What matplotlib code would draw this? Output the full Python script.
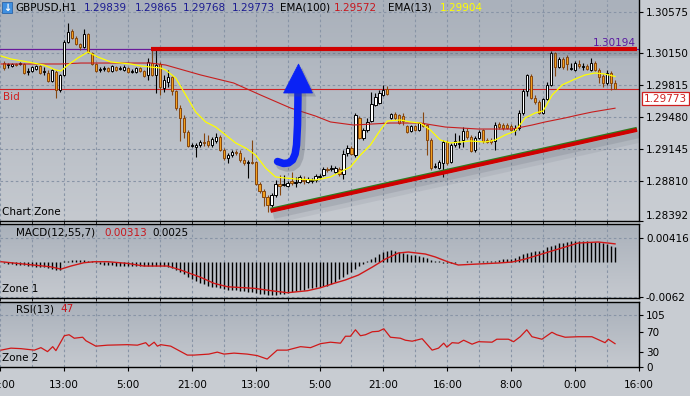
import numpy as np
import matplotlib
matplotlib.use('Agg')
import matplotlib.pyplot as plt
import matplotlib.patheffects as pe
import matplotlib.transforms as mtransforms
from matplotlib.colors import LinearSegmentedColormap
from matplotlib.patches import Polygon, Rectangle

plt.rcParams['font.family'] = 'DejaVu Sans'
plt.rcParams['font.size'] = 7.5

# ---- GBPUSD H1 candles (bar index 0..153)
opens = [1.30045, 1.30024, 1.30014, 1.30035, 1.30035, 1.30035, 1.29951, 1.29962, 1.29983, 1.30014,
         1.29951, 1.29941, 1.29857, 1.29951, 1.29763, 1.29920, 1.30265, 1.30380, 1.30307, 1.30244,
         1.30213, 1.30349, 1.30150, 1.30035, 1.29972, 1.29983, 1.29993, 1.29962, 1.30003, 1.29983,
         1.29972, 1.29993, 1.29951, 1.29951, 1.29993, 1.29962, 1.29920, 1.30045, 1.29920, 1.30035,
         1.29784, 1.29846, 1.29899, 1.29752, 1.29574, 1.29470, 1.29323, 1.29176, 1.29166, 1.29187,
         1.29218, 1.29229, 1.29187, 1.29229, 1.29271, 1.29134, 1.29051, 1.29082, 1.29114, 1.29103,
         1.29030, 1.28999, 1.29009, 1.29009, 1.28779, 1.28705, 1.28642, 1.28559, 1.28663, 1.28779,
         1.28768, 1.28758, 1.28810, 1.28789, 1.28799, 1.28820, 1.28799, 1.28810, 1.28820, 1.28852,
         1.28873, 1.28936, 1.28936, 1.28904, 1.28936, 1.28883, 1.29103, 1.29155, 1.29082, 1.29470,
         1.29260, 1.29344, 1.29438, 1.29605, 1.29627, 1.29710, 1.29773, 1.29470, 1.29511, 1.29501,
         1.29490, 1.29386, 1.29333, 1.29386, 1.29344, 1.29417, 1.29396, 1.29239, 1.28957, 1.28946,
         1.28999, 1.29218, 1.29009, 1.29187, 1.29197, 1.29239, 1.29333, 1.29271, 1.29134, 1.29260,
         1.29344, 1.29239, 1.29239, 1.29229, 1.29407, 1.29396, 1.29396, 1.29386, 1.29344, 1.29365,
         1.29522, 1.29752, 1.29909, 1.29679, 1.29637, 1.29522, 1.29668, 1.29815, 1.30150, 1.30003,
         1.30087, 1.30108, 1.29983, 1.29972, 1.30035, 1.30003, 1.30014, 1.29972, 1.30045, 1.29972,
         1.29909, 1.29836, 1.29941, 1.29839]
closes = [1.29993, 1.30035, 1.30035, 1.30024, 1.30045, 1.29941, 1.29962, 1.30003, 1.30014, 1.29941,
          1.29962, 1.29857, 1.29972, 1.29763, 1.29920, 1.30265, 1.30370, 1.30307, 1.30244, 1.30213,
          1.30349, 1.30161, 1.30035, 1.29962, 1.29983, 1.29993, 1.29962, 1.30014, 1.29972, 1.29993,
          1.30003, 1.29951, 1.29962, 1.29993, 1.29962, 1.29909, 1.30056, 1.29920, 1.30024, 1.29794,
          1.29867, 1.29899, 1.29752, 1.29574, 1.29470, 1.29323, 1.29176, 1.29187, 1.29187, 1.29218,
          1.29208, 1.29187, 1.29250, 1.29271, 1.29134, 1.29051, 1.29082, 1.29114, 1.29103, 1.29030,
          1.28999, 1.29009, 1.28999, 1.28779, 1.28705, 1.28642, 1.28559, 1.28663, 1.28779, 1.28758,
          1.28779, 1.28789, 1.28789, 1.28799, 1.28852, 1.28815, 1.28831, 1.28820, 1.28862, 1.28862,
          1.28936, 1.28925, 1.28946, 1.28946, 1.28883, 1.29093, 1.29155, 1.29093, 1.29501, 1.29260,
          1.29344, 1.29428, 1.29616, 1.29689, 1.29731, 1.29763, 1.29721, 1.29511, 1.29470, 1.29417,
          1.29438, 1.29323, 1.29386, 1.29344, 1.29417, 1.29386, 1.29239, 1.28946, 1.28967, 1.29009,
          1.29218, 1.28999, 1.29187, 1.29229, 1.29208, 1.29333, 1.29271, 1.29124, 1.29260, 1.29323,
          1.29229, 1.29218, 1.29218, 1.29396, 1.29375, 1.29365, 1.29365, 1.29344, 1.29365, 1.29522,
          1.29752, 1.29920, 1.29679, 1.29637, 1.29522, 1.29668, 1.29815, 1.30150, 1.30003, 1.30087,
          1.30003, 1.30035, 1.29993, 1.30045, 1.30014, 1.30014, 1.29983, 1.30045, 1.29972, 1.29899,
          1.29836, 1.29941, 1.29836, 1.29773]
highs = [1.30066, 1.30045, 1.30045, 1.30045, 1.30056, 1.30045, 1.29993, 1.30014, 1.30024, 1.30024,
         1.30003, 1.29972, 1.29983, 1.29972, 1.29930, 1.30286, 1.30464, 1.30401, 1.30328, 1.30255,
         1.30401, 1.30360, 1.30161, 1.30045, 1.30003, 1.30014, 1.30003, 1.30024, 1.30014, 1.30014,
         1.30024, 1.30003, 1.29983, 1.30003, 1.30003, 1.29972, 1.30098, 1.30181, 1.30202, 1.30056,
         1.29920, 1.29972, 1.29909, 1.29763, 1.29605, 1.29501, 1.29344, 1.29208, 1.29208, 1.29239,
         1.29313, 1.29292, 1.29271, 1.29313, 1.29292, 1.29155, 1.29103, 1.29134, 1.29134, 1.29134,
         1.29061, 1.29030, 1.29239, 1.29020, 1.28799, 1.28726, 1.28663, 1.28684, 1.28820, 1.28873,
         1.28873, 1.28810, 1.28904, 1.28852, 1.28873, 1.28862, 1.28852, 1.28841, 1.28883, 1.28883,
         1.28957, 1.28957, 1.28978, 1.28967, 1.28957, 1.29134, 1.29187, 1.29176, 1.29522, 1.29490,
         1.29365, 1.29470, 1.29742, 1.29731, 1.29763, 1.29815, 1.29805, 1.29522, 1.29532, 1.29511,
         1.29522, 1.29396, 1.29396, 1.29396, 1.29428, 1.29532, 1.29407, 1.29260, 1.28999, 1.29030,
         1.29239, 1.29239, 1.29208, 1.29313, 1.29292, 1.29375, 1.29365, 1.29292, 1.29281, 1.29344,
         1.29354, 1.29260, 1.29260, 1.29428, 1.29428, 1.29417, 1.29417, 1.29407, 1.29396, 1.29553,
         1.29773, 1.29930, 1.29930, 1.29710, 1.29658, 1.29679, 1.29846, 1.30171, 1.30161, 1.30108,
         1.30108, 1.30129, 1.30045, 1.30066, 1.30077, 1.30045, 1.30035, 1.30098, 1.30066, 1.29993,
         1.29930, 1.29972, 1.29962, 1.29865]
lows = [1.29972, 1.29993, 1.30003, 1.30014, 1.30024, 1.29930, 1.29920, 1.29951, 1.29972, 1.29930,
        1.29920, 1.29846, 1.29846, 1.29679, 1.29742, 1.29909, 1.30255, 1.30297, 1.30234, 1.30181,
        1.30202, 1.30150, 1.30024, 1.29951, 1.29951, 1.29962, 1.29951, 1.29951, 1.29962, 1.29972,
        1.29962, 1.29941, 1.29941, 1.29941, 1.29951, 1.29899, 1.29867, 1.29909, 1.29731, 1.29710,
        1.29742, 1.29794, 1.29710, 1.29553, 1.29229, 1.29260, 1.29166, 1.29166, 1.29061, 1.29166,
        1.29176, 1.29166, 1.29166, 1.29208, 1.29124, 1.29030, 1.28999, 1.29061, 1.29082, 1.29009,
        1.28978, 1.28841, 1.28988, 1.28768, 1.28684, 1.28548, 1.28485, 1.28538, 1.28642, 1.28663,
        1.28758, 1.28747, 1.28768, 1.28747, 1.28789, 1.28779, 1.28789, 1.28789, 1.28799, 1.28841,
        1.28862, 1.28904, 1.28915, 1.28894, 1.28862, 1.28831, 1.29072, 1.29082, 1.29061, 1.29250,
        1.29239, 1.29323, 1.29428, 1.29595, 1.29616, 1.29700, 1.29710, 1.29459, 1.29449, 1.29407,
        1.29396, 1.29313, 1.29323, 1.29333, 1.29333, 1.29375, 1.29082, 1.28925, 1.28946, 1.28936,
        1.28852, 1.28978, 1.28999, 1.29166, 1.29155, 1.29166, 1.29250, 1.29114, 1.29114, 1.29250,
        1.29208, 1.29208, 1.29197, 1.29134, 1.29354, 1.29344, 1.29354, 1.29333, 1.29292, 1.29344,
        1.29501, 1.29700, 1.29668, 1.29616, 1.29511, 1.29511, 1.29658, 1.29805, 1.29909, 1.29993,
        1.29983, 1.29972, 1.29972, 1.29962, 1.29993, 1.29972, 1.29972, 1.29962, 1.29962, 1.29836,
        1.29794, 1.29815, 1.29763, 1.29768]

# moving averages, read as vertices (bar, price)
ema13_x = [-0.75, 1.75, 6, 10, 13, 14.25, 16, 18.5, 21, 23.5, 26.75, 31.75, 34.25, 36.75, 39.25, 40.5,
           43, 45.5, 48, 50.5, 53, 55.5, 58, 60.5, 63, 65.5, 68, 70.5, 73, 78, 81.75, 86.75, 89.25,
           91.75, 94.25, 96, 99.25, 101.75, 104.25, 106.75, 109.25, 111.75, 114.25, 116.75, 120.5,
           123, 125.5, 128, 130.5, 133, 135, 137.25, 139.75, 143, 145.5, 148, 150.5, 153]
ema13_y = [1.30119, 1.30087, 1.30056, 1.30024, 1.29972, 1.29962, 1.30024, 1.30098, 1.30161, 1.30108,
           1.30056, 1.30035, 1.30014, 1.30003, 1.29993, 1.29972, 1.29888, 1.29710, 1.29532, 1.29428,
           1.29375, 1.29292, 1.29208, 1.29155, 1.29082, 1.28946, 1.28852, 1.28841, 1.28831, 1.28820,
           1.28852, 1.28957, 1.29082, 1.29187, 1.29344, 1.29438, 1.29449, 1.29428, 1.29417, 1.29344,
           1.29239, 1.29208, 1.29218, 1.29229, 1.29218, 1.29239, 1.29292, 1.29333, 1.29470, 1.29522,
           1.29543, 1.29710, 1.29815, 1.29878, 1.29920, 1.29941, 1.29930, 1.29904]
ema100_x = [-0.75, 14.25, 19.25, 36.75, 40.5, 49.25, 57.5, 64.25, 71.75, 78, 81.75, 87.5, 96.75,
            104.25, 110.5, 118.75, 127.25, 132.25, 135.5, 140.5, 143.75, 147.25, 153]
ema100_y = [1.30035, 1.30035, 1.30045, 1.30045, 1.30024, 1.29920, 1.29836, 1.29710, 1.29574, 1.29490,
            1.29428, 1.29396, 1.29417, 1.29417, 1.29375, 1.29354, 1.29354, 1.29396, 1.29428, 1.29470,
            1.29501, 1.29532, 1.29572]

bid = 1.29773
level_price = 1.30194
res_x = [36.75, 158.5]
res_y = [1.30190, 1.30190]
trend_x = [66.75, 158.5]
trend_y = [1.28496, 1.29344]
arrow_x = [68.5, 70, 71.25, 72.25, 72.9, 73.25, 73.5, 73.6, 73.6]
arrow_y = [1.29014, 1.28993, 1.28999, 1.29030, 1.29093, 1.29187, 1.29396, 1.29658, 1.29742]
head_x = [70, 77.25, 73.75]
head_y = [1.29731, 1.29731, 1.30035]

# MACD(12,55,7): histogram per bar, signal as vertices
macd = [-0.0003, -0.0004, -0.0004, -0.0005, -0.0005, -0.0006, -0.0007, -0.0007, -0.0009, -0.0009,
        -0.0010, -0.0011, -0.0012, -0.0014, -0.0015, 0.0001, 0.0002, 0.0003, 0.0003, 0.0003,
        0.0003, 0.0002, 0.0001, -0.0002, -0.0004, -0.0005, -0.0006, -0.0006, -0.0007, -0.0007,
        -0.0007, -0.0007, -0.0007, -0.0008, -0.0008, -0.0008, -0.0007, -0.0007, -0.0007, -0.0008,
        -0.0008, -0.0009, -0.0011, -0.0014, -0.0018, -0.0022, -0.0027, -0.0031, -0.0034, -0.0037,
        -0.0040, -0.0042, -0.0044, -0.0045, -0.0047, -0.0048, -0.0049, -0.0049, -0.0050, -0.0051,
        -0.0052, -0.0053, -0.0053, -0.0055, -0.0056, -0.0057, -0.0058, -0.0058, -0.0058, -0.0057,
        -0.0057, -0.0055, -0.0053, -0.0052, -0.0050, -0.0049, -0.0047, -0.0046, -0.0045, -0.0044,
        -0.0043, -0.0042, -0.0040, -0.0036, -0.0031, -0.0026, -0.0022, -0.0018, -0.0012, -0.0008,
        -0.0004, 0.0001, 0.0005, 0.0009, 0.0014, 0.0017, 0.0019, 0.0020, 0.0019, 0.0017,
        0.0015, 0.0013, 0.0012, 0.0011, 0.0010, 0.0009, 0.0006, 0.0003, 0.0001, 0.0001,
        -0.0002, -0.0003, -0.0003, -0.0002, -0.0001, -0.0001, 0.0001, 0.0001, -0.0001, 0.0001,
        0.0001, 0.0001, 0.0001, 0.0002, 0.0003, 0.0004, 0.0004, 0.0005, 0.0006, 0.0010,
        0.0014, 0.0016, 0.0017, 0.0018, 0.0019, 0.0021, 0.0025, 0.0028, 0.0030, 0.0032,
        0.0033, 0.0035, 0.0036, 0.0036, 0.0036, 0.0036, 0.0036, 0.0035, 0.0035, 0.0034,
        0.0033, 0.0031, 0.0028, 0.0025]
sig_x = [-0.75, 7.6, 11.75, 14.25, 16.75, 20, 22.6, 26, 31, 35, 41, 44.25, 49.25, 52.6, 56, 62.6,
         67.6, 71, 76, 79.25, 82.6, 85.5, 88.75, 92.25, 95.5, 98.75, 101.25, 105.5, 108, 111.25,
         113.75, 118.75, 123.75, 127.25, 130.5, 135.5, 140.5, 143.75, 148.75, 151.25, 153]
sig_y = [0.0, -0.0006, -0.0009, -0.0013, -0.00076, -0.00018, 0.0, 0.0, -0.0003, -0.00076, -0.00076,
         -0.00146, -0.00274, -0.0038, -0.0044, -0.00467, -0.00515, -0.00544, -0.00509, -0.00457,
         -0.0038, -0.0032, -0.00234, -0.00093, 0.00047, 0.00153, 0.0017, 0.00135, 0.00083, -0.00005,
         -0.00058, -0.0004, -0.00023, -0.00005, 0.00047, 0.00153, 0.00258, 0.00328, 0.00346,
         0.00328, 0.00313]

# RSI(13) vertices
rsi_x = [-0.75, 1.75, 4.25, 7.6, 9.25, 10.9, 12.2, 13, 15.1, 16.3,
         17.6, 19.7, 20.5, 23, 25.9, 30.9, 33.4, 35.5, 36.3, 37.6,
         38.4, 39.25, 41.75, 45.9, 47.6, 51.3, 53.4, 55.1, 57.6, 60.9,
         63.4, 65.9, 68.4, 70.9, 74.25, 76.75, 79.25, 81.75, 84.25, 85.5,
         86.75, 88, 89.25, 90.5, 92.2, 93.8, 95.1, 96.75, 99.25, 100.5,
         102.2, 104.7, 107.2, 108.8, 110.1, 110.9, 112.2, 113.8, 115.1, 117.2,
         118.8, 122.2, 123.4, 126.3, 127.6, 129.25, 130.9, 132.2, 134.7, 137.2,
         138.4, 140.5, 143.8, 147.2, 150.5, 151.3, 153]
rsi_v = [34, 38, 37, 34, 39, 31, 41, 33, 63, 65,
         58, 60, 53, 42, 44, 45, 44, 49, 42, 50,
         42, 45, 42, 24, 24, 26, 30, 26, 28, 26,
         23, 16, 34, 34, 41, 39, 47, 50, 48, 62,
         62, 75, 63, 65, 71, 72, 77, 60, 58, 54,
         52, 57, 34, 38, 48, 40, 49, 48, 54, 46,
         51, 50, 56, 56, 51, 61, 75, 61, 56, 70,
         65, 60, 61, 61, 49, 56, 47]

price_ticks = [1.30575, 1.30150, 1.29815, 1.29480, 1.29145, 1.28810, 1.28392]
time_pos = [-1, 15, 31, 47, 63, 79, 95, 111, 127, 143, 159]
time_labels = ['21:00', '13:00', '5:00', '21:00', '13:00', '5:00', '21:00', '16:00', '8:00', '0:00', '16:00']
grid_pos = list(range(-1, 159, 8))

W, H = 690, 396
fig = plt.figure(figsize=(6.9, 3.96), dpi=100)
fig.patch.set_facecolor('#c8ccd2')

def px_axes(x0, y0, x1, y1):
    return fig.add_axes([x0 / W, 1 - y1 / H, (x1 - x0) / W, (y1 - y0) / H])

ax = px_axes(0, 0, 639, 221)
axm = px_axes(0, 224, 639, 298)
axr = px_axes(0, 302, 639, 367)

bgmap = LinearSegmentedColormap.from_list('bg', ['#c5c9cf', '#aab1bb'])
grad = np.linspace(0, 1, 256).reshape(-1, 1)
gridkw = dict(color='#8894a6', linestyle=(0, (2.3, 2.3)), linewidth=0.8)
for a in (ax, axm, axr):
    a.imshow(grad, cmap=bgmap, origin='lower', extent=(0, 1, 0, 1),
             transform=a.transAxes, aspect='auto', zorder=-5)
    a.set_axisbelow(True)
    for s in ('left', 'top'):
        a.spines[s].set_visible(False)
    for s in ('right', 'bottom'):
        a.spines[s].set_linewidth(1.0)
        a.spines[s].set_color('black')
    a.yaxis.tick_right()
    a.tick_params(axis='y', direction='out', length=3, width=0.8, pad=2, labelsize=7.5)
    a.set_xticks(grid_pos, minor=True)
    a.grid(axis='x', which='minor', **gridkw)
for a in (axm, axr):
    a.spines['top'].set_visible(True)
    a.spines['top'].set_linewidth(1.0)

# ---- price panel
o = np.array(opens); c = np.array(closes); h = np.array(highs); l = np.array(lows)
idx = np.arange(len(c))
up = c >= o
dn = ~up
bear_fill, bear_edge = '#f2a01e', '#86460f'
ax.vlines(idx[up], l[up], h[up], color='black', lw=0.8, zorder=3)
ax.vlines(idx[dn], l[dn], h[dn], color=bear_edge, lw=0.8, zorder=3)
body = np.abs(c - o)
ax.bar(idx[up], body[up], bottom=np.minimum(o, c)[up], width=0.55, color='white',
       edgecolor='black', linewidth=0.7, zorder=4)
ax.bar(idx[dn], body[dn], bottom=np.minimum(o, c)[dn], width=0.55, color=bear_fill,
       edgecolor=bear_edge, linewidth=0.7, zorder=4)

ax.plot(ema100_x, ema100_y, color='#c81e1e', lw=0.8, zorder=5)
ax.plot(ema13_x, ema13_y, color='#ffff00', lw=0.9, zorder=5)

ax.axhline(level_price, color='#6a1b9a', lw=0.9, zorder=2)
ax.axhline(bid, color='#d02020', lw=0.8, zorder=2)

shade = '#4c5260'
ax.plot(res_x, res_y, color='#d00000', lw=3.0, solid_capstyle='butt', zorder=6,
        path_effects=[pe.SimpleLineShadow(offset=(0.5, -3.5), shadow_color=shade, alpha=0.10, linewidth=6),
                      pe.SimpleLineShadow(offset=(0.5, -2.5), shadow_color=shade, alpha=0.14, linewidth=3.5),
                      pe.Normal()])
ax.plot(trend_x, trend_y, color='#d00000', lw=2.8, solid_capstyle='butt', zorder=6,
        path_effects=[pe.SimpleLineShadow(offset=(2.5, -5), shadow_color=shade, alpha=0.09, linewidth=8),
                      pe.SimpleLineShadow(offset=(2, -3.5), shadow_color=shade, alpha=0.14, linewidth=4.5),
                      pe.Stroke(linewidth=3.2, foreground='#2f7a1f', offset=(0, 0.7)),
                      pe.Normal()])

blue = '#0a22f5'
ax.plot(arrow_x, arrow_y, color=blue, lw=5.4, solid_capstyle='round', solid_joinstyle='round', zorder=7,
        path_effects=[pe.SimpleLineShadow(offset=(2.5, -2.5), shadow_color=shade, alpha=0.25, linewidth=7),
                      pe.Normal()])
head = Polygon(np.column_stack([head_x, head_y]), closed=True, fc=blue, ec=blue, lw=0.5, zorder=7,
               path_effects=[pe.withSimplePatchShadow(offset=(2.5, -2.5), shadow_rgbFace=shade, alpha=0.25)])
ax.add_patch(head)

ax.set_xlim(-1, 159)
ax.set_ylim(1.28391, 1.30705)
ax.set_yticks(price_ticks)
ax.set_yticklabels(['%.5f' % v for v in price_ticks])
ax.yaxis.get_ticklabels()[-1].set_verticalalignment('bottom')
ax.grid(axis='y', **gridkw)
ax.set_xticks([])

trans = mtransforms.blended_transform_factory(ax.transAxes, ax.transData)
ax.text(1.0, bid, '%.5f' % bid, color='#d02020', ha='left', va='center', clip_on=False, zorder=10,
        transform=mtransforms.offset_copy(trans, fig=fig, x=5, y=-9.5, units='dots'),
        bbox=dict(boxstyle='square,pad=0.18', fc='white', ec='#d02020', lw=0.9))
ax.text(1.0, level_price, '%.5f' % level_price, color='#5a1aa0', ha='right', va='bottom', zorder=10,
        transform=mtransforms.offset_copy(trans, fig=fig, x=-3, y=1, units='dots'))
ax.text(0.0, bid, 'Bid', color='#d02020', ha='left', va='top', zorder=10,
        transform=mtransforms.offset_copy(trans, fig=fig, x=3, y=-3, units='dots'))

# ---- MACD panel
axm.vlines(idx, 0, macd, color='black', lw=1.0, zorder=3)
axm.plot(sig_x, sig_y, color='#d01818', lw=1.0, zorder=4)
axm.set_xlim(-1, 159)
axm.set_ylim(-0.00637, 0.00662)
axm.set_yticks([0.00416, -0.0062])
axm.set_yticklabels(['0.00416', '-0.0062'])
axm.grid(axis='y', **gridkw)
axm.set_xticks([])

# ---- RSI panel
axr.plot(rsi_x, rsi_v, color='#d01818', lw=0.9, zorder=4)
axr.axhline(105, zorder=1, **gridkw)
axr.set_xlim(-1, 159)
axr.set_ylim(0, 131)
axr.set_yticks([0, 30, 70, 105])
axr.set_yticklabels(['0', '30', '70', '105'])
axr.set_xticks(time_pos)
axr.set_xticklabels(time_labels)
axr.grid(axis='x', which='major', **gridkw)
axr.tick_params(axis='x', which='major', direction='out', length=3, width=0.8, pad=6, labelsize=7.5)
axr.tick_params(axis='x', which='minor', length=0)

# ---- header texts (pixel positions)
def ftext(x, y, s, color='black', **kw):
    fig.text(x / W, 1 - y / H, s, color=color, ha='left', va='center', fontsize=7.5, **kw)

fig.patches.append(Rectangle((2 / W, 1 - 13 / H), 10 / W, 11 / H, transform=fig.transFigure,
                             fc='#3f8fe0', ec='#2a64a8', lw=0.6, zorder=20))
fig.text(7 / W, 1 - 7.5 / H, '\u2193', color='white', ha='center', va='center', fontsize=7,
         fontweight='bold', zorder=21)
navy = '#1b1b91'
ftext(15, 8, 'GBPUSD,H1')
ftext(84, 8, '%.5f' % opens[-1], navy)
ftext(135, 8, '%.5f' % highs[-1], navy)
ftext(183, 8, '%.5f' % lows[-1], navy)
ftext(232, 8, '%.5f' % closes[-1], navy)
ftext(280, 8, 'EMA(100)')
ftext(334, 8, '%.5f' % ema100_y[-1], '#c8161d')
ftext(388, 8, 'EMA(13)')
ftext(440, 8, '%.5f' % ema13_y[-1], '#ffff00')
ftext(2, 212, 'Chart Zone')

ftext(16, 233, 'MACD(12,55,7)')
ftext(104, 233, '%.5f' % sig_y[-1], '#c8161d')
ftext(152, 233, '%.4f' % macd[-1])
ftext(2, 289, 'Zone 1')

ftext(16, 309, 'RSI(13)')
ftext(60, 309, '%d' % rsi_v[-1], '#c8161d')
ftext(2, 358, 'Zone 2')

fig.savefig('out.png', dpi=100, facecolor=fig.get_facecolor())
